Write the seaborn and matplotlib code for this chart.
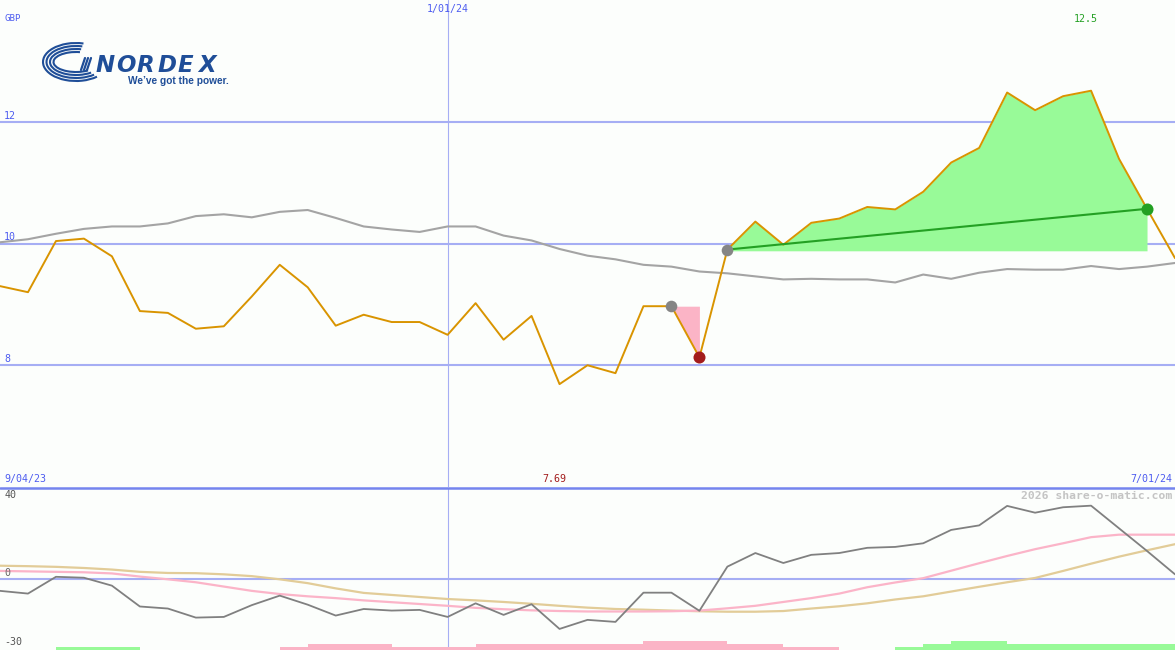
import numpy as np
import pandas as pd
import matplotlib
matplotlib.use("Agg")
import matplotlib.pyplot as plt
import seaborn as sns
from matplotlib.patches import Arc

# weekly closes (GBP), one point per week
price = [9.30, 9.20, 10.04, 10.08, 9.79, 8.89, 8.86, 8.60, 8.64, 9.13,
         9.65, 9.28, 8.65, 8.83, 8.71, 8.71, 8.50, 9.02, 8.42, 8.81,
         7.69, 8.00, 7.87, 8.97, 8.97, 8.13, 9.90, 10.36, 9.98, 10.34,
         10.41, 10.60, 10.56, 10.85, 11.33, 11.57, 12.48, 12.19, 12.42, 12.51,
         11.39, 10.57, 9.76]
# moving average (grey)
ma = [10.02, 10.07, 10.16, 10.24, 10.28, 10.28, 10.33, 10.45, 10.48, 10.43,
      10.52, 10.55, 10.42, 10.28, 10.23, 10.19, 10.28, 10.28, 10.13, 10.05,
      9.91, 9.80, 9.74, 9.65, 9.62, 9.54, 9.51, 9.46, 9.41, 9.42,
      9.41, 9.41, 9.36, 9.49, 9.42, 9.52, 9.58, 9.57, 9.57, 9.63,
      9.58, 9.62, 9.68]
# indicator panel
momentum = [-5.4, -6.6, 0.8, 0.4, -3.1, -12.3, -13.2, -17.2, -16.9, -11.7,
            -7.5, -11.5, -16.3, -13.4, -14.1, -13.8, -16.9, -10.9, -16.0, -11.3,
            -22.2, -18.2, -19.1, -6.2, -6.2, -14.2, 5.3, 11.3, 6.9, 10.5,
            11.3, 13.6, 14.0, 15.6, 21.5, 23.5, 32.1, 29.1, 31.5, 32.2,
            22.2, 12.2, 1.9]
signal_fast = [3.4, 3.2, 3.0, 2.8, 2.3, 0.9, -0.3, -1.6, -3.5, -5.4,
               -6.8, -7.8, -8.6, -9.6, -10.4, -11.2, -12.0, -12.9, -13.5, -14.0,
               -14.3, -14.5, -14.5, -14.5, -14.4, -14.1, -13.1, -12.0, -10.3, -8.6,
               -6.6, -3.8, -1.7, 0.2, 3.5, 6.8, 10.0, 13.0, 15.6, 18.3,
               19.4, 19.4, 19.4]
signal_slow = [5.7, 5.5, 5.2, 4.7, 4.0, 3.0, 2.5, 2.4, 1.9, 1.1,
               -0.3, -2.0, -4.3, -6.3, -7.2, -8.1, -9.0, -9.6, -10.3, -11.1,
               -12.0, -12.8, -13.4, -13.7, -14.1, -14.4, -14.6, -14.6, -14.3, -13.2,
               -12.2, -10.9, -9.2, -7.8, -5.7, -3.6, -1.6, 0.3, 3.4, 6.6,
               9.7, 12.5, 15.2]
# strength blocks per week interval (+ green, - pink)
blocks = [0, 0, 1, 1, 1, 0, 0, 0, 0, 0, -1, -2, -2, -2, -1, -1, -1,
          -2, -2, -2, -2, -2, -2, -3, -3, -3, -2, -2, -1, -1, 0, 0,
          1, 2, 3, 3, 2, 2, 2, 2, 2, 2]

start_label = "9/04/23"
mid_label = "1/01/24"
end_label = "7/01/24"
mid_week = 16
dip_start, dip_end = 24, 25
rise_start, rise_end = 26, 41

weeks = np.arange(len(price))
df = pd.DataFrame({"week": weeks, "price": price, "ma": ma,
                   "mom": momentum, "fast": signal_fast, "slow": signal_slow})

sns.set_style("white")
plt.rcParams["font.family"] = ["DejaVu Sans Mono", "DejaVu Sans"]

bg = "#fcfefc"
grid_c = "#a6aef4"
lab_c = "#4d5cf0"

fig = plt.figure(figsize=(11.75, 6.5), dpi=100, facecolor=bg)
ax = fig.add_axes([0, 163 / 650, 1, 487 / 650], facecolor=bg)
ax2 = fig.add_axes([0, 0, 1, 162 / 650], facecolor=bg)

# ---- main price panel ----
for v in [8, 10, 12]:
    ax.axhline(v, color=grid_c, lw=1.5, zorder=1)
    ax.text(0.15, v + 0.1, str(v), color=lab_c, fontsize=7.2, va="center")
ax.axvline(mid_week, color=grid_c, lw=0.8, zorder=1)

p = np.array(price)
xr = weeks[rise_start:rise_end + 1]
ax.fill_between(xr, p[rise_start:rise_end + 1], p[rise_start] - 0.02,
                color="#98fa98", lw=0, zorder=2)
xd = weeks[dip_start:dip_end + 1]
ax.fill_between(xd, p[dip_start:dip_end + 1], p[dip_start],
                color="#fbb4c6", lw=0, zorder=2)

sns.lineplot(data=df, x="week", y="ma", ax=ax, color="#a4a4a4", lw=1.5, zorder=3)
sns.lineplot(data=df, x="week", y="price", ax=ax, color="#d99400", lw=1.4, zorder=4)
sns.lineplot(x=[rise_start, rise_end], y=[p[rise_start], p[rise_end]], ax=ax,
             color="#24a024", lw=1.5, zorder=5)
ax.scatter([dip_start, rise_start], [p[dip_start], p[rise_start]],
           s=70, color="#858585", zorder=6, lw=0)
ax.scatter([dip_end], [p[dip_end]], s=75, color="#a31c1c", zorder=6, lw=0)
ax.scatter([rise_end], [p[rise_end]], s=75, color="#22a022", zorder=6, lw=0)

imax, imin = int(np.argmax(p)), int(np.argmin(p))
ax.text(imax - 0.2, 13.68, f"{p[imax]:.1f}", color="#24a024", fontsize=7.2,
        ha="center", va="center")
ax.text(imin - 0.2, 6.13, f"{p[imin]:.2f}", color="#a31c1c", fontsize=7.2,
        ha="center", va="center")
ax.text(mid_week, 13.85, mid_label, color=lab_c, fontsize=7.2, ha="center", va="center")
ax.text(0.15, 13.69, "GBP", color=lab_c, fontsize=6.6, va="center")
ax.text(0.15, 6.13, start_label, color=lab_c, fontsize=7.2, va="center")
ax.text(41.9, 6.13, end_label, color=lab_c, fontsize=7.2, va="center", ha="right")

ax.set_xlim(0, len(price) - 1)
ax.set_ylim(6, 14)

# ---- indicator panel ----
ax2.axhline(0, color=grid_c, lw=1.5, zorder=1)
ax2.axvline(mid_week, color=grid_c, lw=0.8, zorder=1)
sns.lineplot(data=df, x="week", y="slow", ax=ax2, color="#e2cc98", lw=1.6, zorder=2)
sns.lineplot(data=df, x="week", y="fast", ax=ax2, color="#fbb4c8", lw=1.6, zorder=3)
sns.lineplot(data=df, x="week", y="mom", ax=ax2, color="#808080", lw=1.3, zorder=4)

bot = -31.5
for i, b in enumerate(blocks):
    if b == 0:
        continue
    ax2.bar(i + 0.5, abs(b) * 1.33, width=1.0, bottom=bot,
            color="#98fa98" if b > 0 else "#fbb4c6", lw=0, zorder=2)

ax2.text(0.15, 36.8, "40", color="#555555", fontsize=7.2, va="center")
ax2.text(0.15, 2.3, "0", color="#666666", fontsize=7.2, va="center")
ax2.text(0.15, -27.8, "-30", color="#555555", fontsize=7.2, va="center")
ax2.text(41.9, 36.5, "2026 share-o-matic.com", color="#c4c4c4", fontsize=8.2,
         fontweight="bold", ha="right", va="center")
ax2.set_xlim(0, len(price) - 1)
ax2.set_ylim(bot, 40)

for a in (ax, ax2):
    a.set_xlabel("")
    a.set_ylabel("")
    a.set_xticks([])
    a.set_yticks([])
    for s in a.spines.values():
        s.set_visible(False)

# ---- overlay in pixel coordinates: separator + logo ----
ov = fig.add_axes([0, 0, 1, 1], facecolor="none")
ov.set_xlim(0, 1175)
ov.set_ylim(650, 0)
ov.axis("off")
ov.plot([0, 1175], [487.5, 487.5], color="#7484ee", lw=1.8)

navy = "#1f4e98"
# swoosh: a few parallel stripes sweeping round to the left
for k in range(4):
    ov.add_patch(Arc((76, 62), 66 - k * 7, 38 - k * 6, theta1=35,
                     theta2=292, color=navy, lw=1.5))
for k in range(3):
    ov.plot([85 + k * 3, 81 + k * 3], [58, 70], color=navy, lw=1.6)
for i, ch in enumerate("NORDEX"):
    ov.text(96 + i * 20.5, 65, ch, color=navy, fontsize=16.5, fontweight="heavy",
            fontstyle="italic", family="DejaVu Sans", va="center", ha="left")
ov.text(128, 81, "We\u2019ve got the power.", color=navy, fontsize=7.3,
        fontweight="bold", family="Liberation Sans", va="center", ha="left")

fig.savefig("out.png", dpi=100, facecolor=bg)
